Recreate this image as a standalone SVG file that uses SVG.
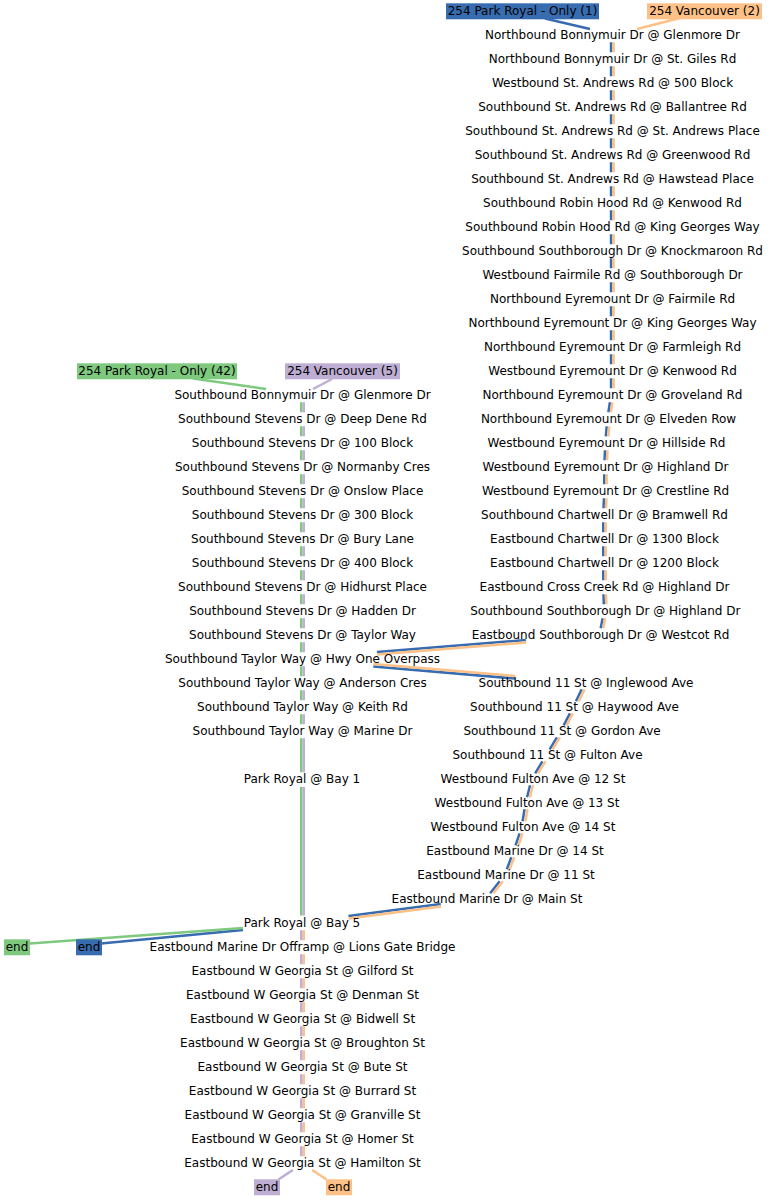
<svg xmlns="http://www.w3.org/2000/svg" width="773" height="1200" viewBox="0 0 773 1200">
<style>
text{font-family:"DejaVu Sans","Liberation Sans",sans-serif;font-size:12px;fill:#000;text-anchor:middle}
.c{fill:none;stroke-width:2.5}
.bl{stroke:#386cb0}.or{stroke:#fdc086}.gr{stroke:#7fc97f}.pu{stroke:#beaed4}
</style>
<rect width="773" height="1200" fill="#fff"/>
<g id="connectors">
<path class="c bl" d="M545 18.5L590 29M611.05 42.3v10m0 14v10m0 14v10m0 14v10m0 14v10m0 14v10m0 14v10m0 14v10m0 14v10m0 14v10m0 14v10m0 14v10m0 14v10m0 14v10m0 14v10M609.94 402.3L608.36 412.3M606.67 426.3L605.83 436.3M604.96 450.3L604.54 460.3M604.25 474.3V484.3M603.96 498.3L603.54 508.3M603.25 522.3V532.3M603.25 546.3V556.3M603.25 570.3V580.3M603.48 594.3L603.82 604.3M602.65 618.3L600.65 628.3M525.9 640.05L376.9 652.05M373.3 666.55L515 678.55M581.65 689.3L575.95 701.3M569.95 713.3L563.65 725.3M556.95 737.3L549.65 749.3M542.45 761.3L535.15 773.3M530.05 785.3L527.05 797.3M524.55 809.3L522.55 821.3M519.55 833.3L515.55 845.3M511.3 857.3L506.8 869.3M499.65 881.3L490.15 893.3M440.74 904.06L348.44 916.06M243 930L101 943.5"/>
<path class="c or" d="M680 18L637 29M613.55 42.3v10m0 14v10m0 14v10m0 14v10m0 14v10m0 14v10m0 14v10m0 14v10m0 14v10m0 14v10m0 14v10m0 14v10m0 14v10m0 14v10m0 14v10M612.44 402.3L610.86 412.3M609.17 426.3L608.33 436.3M607.46 450.3L607.04 460.3M606.75 474.3V484.3M606.46 498.3L606.04 508.3M605.75 522.3V532.3M605.75 546.3V556.3M605.75 570.3V580.3M605.98 594.3L606.32 604.3M605.15 618.3L603.15 628.3M526.1 642.55L377.1 654.55M373.5 664.05L515.2 676.05M584.55 689.3L578.85 701.3M572.85 713.3L566.55 725.3M559.85 737.3L552.55 749.3M545.35 761.3L538.05 773.3M532.95 785.3L529.95 797.3M527.45 809.3L525.45 821.3M522.45 833.3L518.45 845.3M514.2 857.3L509.7 869.3M502.85 881.3L493.35 893.3M441.06 906.54L348.76 918.54M303.75 930.3v10m0 14v10m0 14v10m0 14v10m0 14v10m0 14v10m0 14v10m0 14v10m0 14v10m0 14v10M312.2 1170L326.5 1179.5"/>
<path class="c gr" d="M193 378.5L266 389M301.25 402.3v10m0 14v10m0 14v10m0 14v10m0 14v10m0 14v10m0 14v10m0 14v10m0 14v10m0 14v10m0 14v10m0 14v10m0 14v10m0 14v10M301.25 738.3V772.3M301.25 787V915.5M243 928L30 943.5"/>
<path class="c pu" d="M332 379L313 389M303.75 402.3v10m0 14v10m0 14v10m0 14v10m0 14v10m0 14v10m0 14v10m0 14v10m0 14v10m0 14v10m0 14v10m0 14v10m0 14v10m0 14v10M303.75 738.3V772.3M303.75 787V915.5M301.25 930.3v10m0 14v10m0 14v10m0 14v10m0 14v10m0 14v10m0 14v10m0 14v10m0 14v10m0 14v10M292.8 1170L278.5 1179.5"/>
</g>
<g id="route-labels">
<g id="lbl-pr1"><rect x="446" y="3.3" width="153" height="16" fill="#386cb0"/><text x="522.5" y="14.8">254 Park Royal - Only (1)</text></g>
<g id="lbl-van2"><rect x="647" y="3.3" width="115" height="16" fill="#fdc086"/><text x="704.5" y="14.8">254 Vancouver (2)</text></g>
<g id="lbl-pr42"><rect x="77" y="363.3" width="160" height="16" fill="#7fc97f"/><text x="157" y="374.8">254 Park Royal - Only (42)</text></g>
<g id="lbl-van5"><rect x="285" y="363.3" width="115" height="16" fill="#beaed4"/><text x="342.5" y="374.8">254 Vancouver (5)</text></g>
<g id="end-green"><rect x="4" y="939.3" width="26" height="16" fill="#7fc97f"/><text x="17" y="950.8">end</text></g>
<g id="end-blue"><rect x="76" y="939.3" width="26" height="16" fill="#386cb0"/><text x="89" y="950.8">end</text></g>
<g id="end-purple"><rect x="254" y="1179.3" width="26" height="16" fill="#beaed4"/><text x="267" y="1190.8">end</text></g>
<g id="end-orange"><rect x="326" y="1179.3" width="26" height="16" fill="#fdc086"/><text x="339" y="1190.8">end</text></g>
</g>
<g id="stops-north">
<g id="r0"><text x="612.5" y="38.8">Northbound Bonnymuir Dr @ Glenmore Dr</text></g>
<g id="r1"><text x="612.5" y="62.8">Northbound Bonnymuir Dr @ St. Giles Rd</text></g>
<g id="r2"><text x="612.5" y="86.8">Westbound St. Andrews Rd @ 500 Block</text></g>
<g id="r3"><text x="612.5" y="110.8">Southbound St. Andrews Rd @ Ballantree Rd</text></g>
<g id="r4"><text x="612.5" y="134.8">Southbound St. Andrews Rd @ St. Andrews Place</text></g>
<g id="r5"><text x="612.5" y="158.8">Southbound St. Andrews Rd @ Greenwood Rd</text></g>
<g id="r6"><text x="612.5" y="182.8">Southbound St. Andrews Rd @ Hawstead Place</text></g>
<g id="r7"><text x="612.5" y="206.8">Southbound Robin Hood Rd @ Kenwood Rd</text></g>
<g id="r8"><text x="612.5" y="230.8">Southbound Robin Hood Rd @ King Georges Way</text></g>
<g id="r9"><text x="612.5" y="254.8">Southbound Southborough Dr @ Knockmaroon Rd</text></g>
<g id="r10"><text x="612.5" y="278.8">Westbound Fairmile Rd @ Southborough Dr</text></g>
<g id="r11"><text x="612.5" y="302.8">Northbound Eyremount Dr @ Fairmile Rd</text></g>
<g id="r12"><text x="612.5" y="326.8">Northbound Eyremount Dr @ King Georges Way</text></g>
<g id="r13"><text x="612.5" y="350.8">Northbound Eyremount Dr @ Farmleigh Rd</text></g>
<g id="r14"><text x="612.5" y="374.8">Westbound Eyremount Dr @ Kenwood Rd</text></g>
<g id="r15"><text x="612.5" y="398.8">Northbound Eyremount Dr @ Groveland Rd</text></g>
<g id="r16"><text x="608.5" y="422.8">Northbound Eyremount Dr @ Elveden Row</text></g>
<g id="r17"><text x="606.5" y="446.8">Westbound Eyremount Dr @ Hillside Rd</text></g>
<g id="r18"><text x="605.5" y="470.8">Westbound Eyremount Dr @ Highland Dr</text></g>
<g id="r19"><text x="605.5" y="494.8">Westbound Eyremount Dr @ Crestline Rd</text></g>
<g id="r20"><text x="604.5" y="518.8">Southbound Chartwell Dr @ Bramwell Rd</text></g>
<g id="r21"><text x="604.5" y="542.8">Eastbound Chartwell Dr @ 1300 Block</text></g>
<g id="r22"><text x="604.5" y="566.8">Eastbound Chartwell Dr @ 1200 Block</text></g>
<g id="r23"><text x="604.5" y="590.8">Eastbound Cross Creek Rd @ Highland Dr</text></g>
<g id="r24"><text x="605.3" y="614.8">Southbound Southborough Dr @ Highland Dr</text></g>
<g id="r25"><text x="600.5" y="638.8">Eastbound Southborough Dr @ Westcot Rd</text></g>
<g id="r26"><text x="586" y="686.8">Southbound 11 St @ Inglewood Ave</text></g>
<g id="r27"><text x="574.5" y="710.8">Southbound 11 St @ Haywood Ave</text></g>
<g id="r28"><text x="562" y="734.8">Southbound 11 St @ Gordon Ave</text></g>
<g id="r29"><text x="547.5" y="758.8">Southbound 11 St @ Fulton Ave</text></g>
<g id="r30"><text x="533" y="782.8">Westbound Fulton Ave @ 12 St</text></g>
<g id="r31"><text x="527" y="806.8">Westbound Fulton Ave @ 13 St</text></g>
<g id="r32"><text x="523" y="830.8">Westbound Fulton Ave @ 14 St</text></g>
<g id="r33"><text x="515" y="854.8">Eastbound Marine Dr @ 14 St</text></g>
<g id="r34"><text x="506" y="878.8">Eastbound Marine Dr @ 11 St</text></g>
<g id="r35"><text x="487" y="902.8">Eastbound Marine Dr @ Main St</text></g>
</g>
<g id="stops-west">
<g id="l0"><text x="302.5" y="398.8">Southbound Bonnymuir Dr @ Glenmore Dr</text></g>
<g id="l1"><text x="302.5" y="422.8">Southbound Stevens Dr @ Deep Dene Rd</text></g>
<g id="l2"><text x="302.5" y="446.8">Southbound Stevens Dr @ 100 Block</text></g>
<g id="l3"><text x="302.5" y="470.8">Southbound Stevens Dr @ Normanby Cres</text></g>
<g id="l4"><text x="302.5" y="494.8">Southbound Stevens Dr @ Onslow Place</text></g>
<g id="l5"><text x="302.5" y="518.8">Southbound Stevens Dr @ 300 Block</text></g>
<g id="l6"><text x="302.5" y="542.8">Southbound Stevens Dr @ Bury Lane</text></g>
<g id="l7"><text x="302.5" y="566.8">Southbound Stevens Dr @ 400 Block</text></g>
<g id="l8"><text x="302.5" y="590.8">Southbound Stevens Dr @ Hidhurst Place</text></g>
<g id="l9"><text x="302.5" y="614.8">Southbound Stevens Dr @ Hadden Dr</text></g>
<g id="l10"><text x="302.5" y="638.8">Southbound Stevens Dr @ Taylor Way</text></g>
<g id="l11"><text x="302.5" y="662.8">Southbound Taylor Way @ Hwy One Overpass</text></g>
<g id="l12"><text x="302.5" y="686.8">Southbound Taylor Way @ Anderson Cres</text></g>
<g id="l13"><text x="302.5" y="710.8">Southbound Taylor Way @ Keith Rd</text></g>
<g id="l14"><text x="302.5" y="734.8">Southbound Taylor Way @ Marine Dr</text></g>
<g id="bay1"><text x="302" y="782.8">Park Royal @ Bay 1</text></g>
<g id="bay5"><text x="302" y="926.8">Park Royal @ Bay 5</text></g>
<g id="d0"><text x="302.5" y="950.8">Eastbound Marine Dr Offramp @ Lions Gate Bridge</text></g>
<g id="d1"><text x="302.5" y="974.8">Eastbound W Georgia St @ Gilford St</text></g>
<g id="d2"><text x="302.5" y="998.8">Eastbound W Georgia St @ Denman St</text></g>
<g id="d3"><text x="302.5" y="1022.8">Eastbound W Georgia St @ Bidwell St</text></g>
<g id="d4"><text x="302.5" y="1046.8">Eastbound W Georgia St @ Broughton St</text></g>
<g id="d5"><text x="302.5" y="1070.8">Eastbound W Georgia St @ Bute St</text></g>
<g id="d6"><text x="302.5" y="1094.8">Eastbound W Georgia St @ Burrard St</text></g>
<g id="d7"><text x="302.5" y="1118.8">Eastbound W Georgia St @ Granville St</text></g>
<g id="d8"><text x="302.5" y="1142.8">Eastbound W Georgia St @ Homer St</text></g>
<g id="d9"><text x="302.5" y="1166.8">Eastbound W Georgia St @ Hamilton St</text></g>
</g>
</svg>
